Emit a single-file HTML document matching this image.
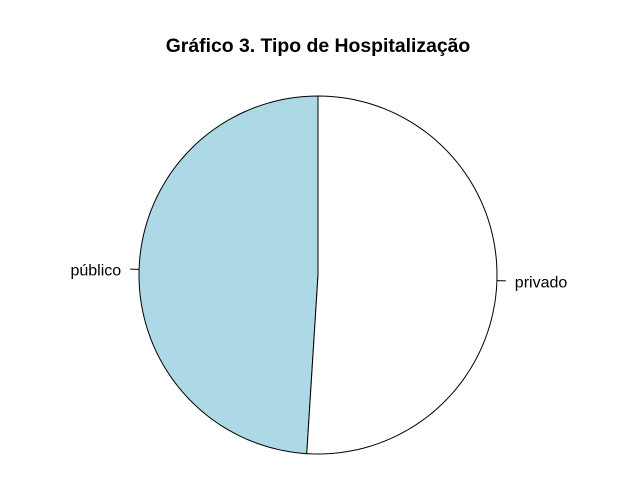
<!DOCTYPE html>
<html><head><meta charset="utf-8"><style>
body{margin:0;background:#fff}
svg{display:block;font-family:"Liberation Sans",Arial,sans-serif}
</style></head><body>
<svg id="c" width="628" height="490">
<rect width="628" height="490" fill="#fff"/>
<text x="318" y="52" text-anchor="middle" font-weight="bold" font-size="19.4">Gráfico 3. Tipo de Hospitalização</text>
</svg>
<script>
const categories=["público","privado"];
const values=[49,51];
const colors=["#add8e6","#ffffff"];
const svg=document.getElementById('c');
const ns="http://www.w3.org/2000/svg";
const cx=318,cy=275,r=179;
const total=values.reduce((a,b)=>a+b,0);
let a0=90;
function pt(deg,rr){const t=deg*Math.PI/180;return [cx+rr*Math.cos(t),cy-rr*Math.sin(t)];}
values.forEach((v,i)=>{
  const a1=a0+v/total*360;
  let d=`M${cx},${cy}`;
  for(let k=0;k<=100;k++){const p=pt(a0+(a1-a0)*k/100,r);d+=`L${p[0].toFixed(2)},${p[1].toFixed(2)}`;}
  d+="Z";
  const path=document.createElementNS(ns,'path');
  path.setAttribute('d',d);path.setAttribute('fill',colors[i]);path.setAttribute('stroke','#000');path.setAttribute('stroke-width','1');
  
  
  svg.appendChild(path);
  const m=(a0+a1)/2;
  const p1=pt(m,r),p2=pt(m,r*1.05),p3=pt(m,r*1.1);
  const ln=document.createElementNS(ns,'line');
  ln.setAttribute('x1',p1[0]);ln.setAttribute('y1',p1[1]);ln.setAttribute('x2',p2[0]);ln.setAttribute('y2',p2[1]);ln.setAttribute('stroke','#000');
  
  
  svg.appendChild(ln);
  const tx=document.createElementNS(ns,'text');
  tx.setAttribute('x',p3[0]);tx.setAttribute('y',p3[1]+6.5);tx.setAttribute('font-size','16');
  tx.setAttribute('text-anchor',Math.cos(m*Math.PI/180)<0?'end':'start');
  tx.textContent=categories[i];
  
  
  svg.appendChild(tx);
  a0=a1;
});
</script>
</body></html>
